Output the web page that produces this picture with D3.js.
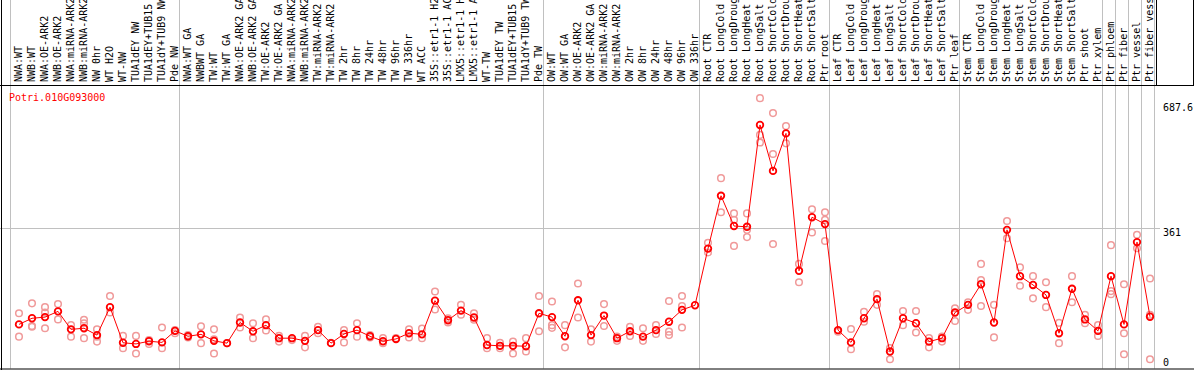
<!DOCTYPE html>
<html>
<head>
<meta charset="utf-8">
<script src="https://cdn.jsdelivr.net/npm/d3@7"></script>
<style>
  body { margin: 0; background: #fff; }
  svg { display: block; }
  text { font-family: "DejaVu Sans Mono", monospace; font-size: 10px; }
</style>
</head>
<body>
<div id="chart"></div>
<script>
// sample names, in plot order
var samples = [
  "NWA:WT", "NWB:WT", "NWA:OE-ARK2", "NWB:OE-ARK2", "NWA:miRNA-ARK2", "NWB:miRNA-ARK2",
  "NW 0hr", "WT H2O", "WT-NW", "TUA1dEY NW", "TUA1dEY+TUB15", "TUA1dY+TUB9 NW", "Pde NW",
  "NWA:WT GA", "NWBWT GA", "TW:WT", "TW:WT GA", "NWA:OE-ARK2 GA", "NWB:OE-ARK2 GA",
  "TW:OE-ARK2", "TW:OE-ARK2 GA", "NWA:miRNA-ARK2", "NWB:miRNA-ARK2", "TW:miRNA-ARK2",
  "TW:miRNA-ARK2", "TW 2hr", "TW 8hr", "TW 24hr", "TW 48hr", "TW 96hr", "TW 336hr",
  "WT ACC", "35S::etr1-1 H2O", "35S::etr1-1 ACC", "LMX5::etr1-1 H2O", "LMX5::etr1-1 ACC",
  "WT-TW", "TUA1dEY TW", "TUA1dEY+TUB15", "TUA1dY+TUB9 TW", "Pde TW",
  "OW:WT", "OW:WT GA", "OW:OE-ARK2", "OW:OE-ARK2 GA", "OW:miRNA-ARK2", "OW:miRNA-ARK2",
  "OW 2hr", "OW 8hr", "OW 24hr", "OW 48hr", "OW 96hr", "OW 336hr",
  "Root CTR", "Root LongCold", "Root LongDrought", "Root LongHeat", "Root LongSalt",
  "Root ShortCold", "Root ShortDrought", "Root ShortHeat", "Root ShortSalt", "Ptr root",
  "Leaf CTR", "Leaf LongCold", "Leaf LongDrought", "Leaf LongHeat", "Leaf LongSalt",
  "Leaf ShortCold", "Leaf ShortDrought", "Leaf ShortHeat", "Leaf ShortSalt", "Ptr leaf",
  "Stem CTR", "Stem LongCold", "Stem LongDrought", "Stem LongHeat", "Stem LongSalt",
  "Stem ShortCold", "Stem ShortDrought", "Stem ShortHeat", "Stem ShortSalt", "Ptr shoot",
  "Ptr xylem", "Ptr phloem", "Ptr fiber", "Ptr vessel", "Ptr fiber vessel"
];

// index where each experiment group starts (and the end)
var groupBreaks = [0, 13, 41, 53, 63, 73, 84, 85, 86, 87, 88];

// mean expression per sample
var means = [
  110, 126, 129, 144, 97, 100, 82, 155, 62, 59, 66, 63, 93,
  79, 84, 67, 61, 115, 92, 108, 74, 74, 67, 95, 61, 85, 95, 79, 66, 72, 87, 84,
  172, 121, 146, 128, 56, 54, 54, 53, 139,
  129, 79, 173, 82, 133, 74, 92, 78, 95, 117, 148, 160,
  308, 446, 367, 365, 631, 511, 609, 250, 390, 372,
  95, 63, 126, 176, 39, 126, 113, 65, 74, 141,
  161, 215, 115, 357, 236, 213, 187, 87, 203, 123, 93,
  236, 110, 325, 130
];

// individual replicates per sample
var replicates = [
  [139, 78], [165, 106, 104], [155, 141, 100], [163, 123], [108, 78], [122, 113, 74],
  [97, 78, 65], [184, 141], [80, 48], [80, 34], [69, 59], [102, 48], [95, 87],
  [82, 76], [105, 61], [97, 71, 34], [61], [128, 102], [113, 74], [123, 94], [80, 65],
  [69], [80, 50], [104, 87], [62], [95, 63], [113, 78], [82, 76], [74, 61], [74],
  [97, 76], [99, 74], [196, 149], [115, 126], [161, 135], [139, 122], [74, 48],
  [62, 48], [65, 34], [74, 39], [184, 92],
  [170, 108, 101], [108, 50], [217, 128], [97, 65], [163, 106], [78, 67], [104, 80],
  [100, 67], [108, 85], [171, 91, 82], [184, 158, 102], [],
  [323, 298], [492, 403], [400, 383, 315], [400, 357, 338], [701, 605, 585],
  [662, 555, 320], [628, 583], [268, 220], [411, 350], [403, 383, 328],
  [91], [98, 45], [143, 117], [189, 161], [19, 48], [145, 108], [145, 89], [74, 50],
  [78, 65], [152, 119],
  [168, 148], [268, 226, 158], [161, 76], [380, 335], [259, 211], [236, 178],
  [220, 155], [114, 61], [236, 168], [135, 113], [108, 80],
  [317, 197, 189], [215, 87, 32], [344, 309], [230, 135, 19]
];

var yTicks = [0, 361, 687.6];
var yGrid = [361];
var geneName = "Potri.010G093000";

var W = 1194, H = 370;
var labelBottom = 85, plotBottom = 368.5;

var svg = d3.select("#chart").append("svg")
    .attr("width", W)
    .attr("height", H);

var x = d3.scaleBand()
    .domain(d3.range(samples.length))
    .range([10.5, 10.5 + 13 * samples.length]);
var px = function(i) { return x(i) + 8.5; };

var y = d3.scaleLinear()
    .domain([0, 687.6])
    .range([366.5, 103.3]);

// group separators
svg.selectAll("line.sep")
  .data(groupBreaks)
  .enter().append("line")
    .attr("class", "sep")
    .attr("x1", function(d) { return Math.floor(x(d) !== undefined ? x(d) : x.range()[1]) + 0.5; })
    .attr("x2", function(d) { return Math.floor(x(d) !== undefined ? x(d) : x.range()[1]) + 0.5; })
    .attr("y1", 0)
    .attr("y2", plotBottom)
    .attr("stroke", "#c0c0c0")
    .attr("stroke-width", 1);

// horizontal grid
svg.selectAll("line.grid")
  .data(yGrid)
  .enter().append("line")
    .attr("x1", 0)
    .attr("x2", 1160)
    .attr("y1", function(d) { return Math.round(y(d)) + 0.5; })
    .attr("y2", function(d) { return Math.round(y(d)) + 0.5; })
    .attr("stroke", "#c0c0c0");

// frame lines
svg.append("line").attr("x1", 0).attr("x2", W).attr("y1", labelBottom + 0.5).attr("y2", labelBottom + 0.5).attr("stroke", "#000");
svg.append("line").attr("x1", 0).attr("x2", W).attr("y1", plotBottom + 0.5).attr("y2", plotBottom + 0.5).attr("stroke", "#000");
svg.append("line").attr("x1", 1.5).attr("x2", 1.5).attr("y1", 0).attr("y2", H).attr("stroke", "#000");
svg.append("line").attr("x1", 1156.5).attr("x2", 1156.5).attr("y1", 0).attr("y2", labelBottom).attr("stroke", "#000");
svg.append("line").attr("x1", 1193.5).attr("x2", 1193.5).attr("y1", 0).attr("y2", labelBottom).attr("stroke", "#000");

// sample labels, rotated
svg.selectAll("text.lab")
  .data(samples)
  .enter().append("text")
    .attr("class", "lab")
    .attr("transform", function(d, i) { return "translate(" + (px(i) + 3) + "," + (labelBottom - 3) + ") rotate(-90)"; })
    .attr("fill", "#000")
    .text(function(d) { return d; });

// replicate points
var reps = [];
replicates.forEach(function(r, i) { r.forEach(function(v) { reps.push([i, v]); }); });

svg.selectAll("circle.rep")
  .data(reps)
  .enter().append("circle")
    .attr("class", "rep")
    .attr("cx", function(d) { return px(d[0]); })
    .attr("cy", function(d) { return y(d[1]); })
    .attr("r", 3.3)
    .attr("fill", "none")
    .attr("stroke", "#f09a9a")
    .attr("stroke-width", 1.5);

// mean line
svg.append("path")
    .datum(means)
    .attr("fill", "none")
    .attr("stroke", "red")
    .attr("stroke-width", 1)
    .attr("d", d3.line()
      .x(function(d, i) { return px(i); })
      .y(function(d) { return y(d); })
    );

// mean points
svg.selectAll("circle.mean")
  .data(means)
  .enter().append("circle")
    .attr("class", "mean")
    .attr("cx", function(d, i) { return px(i); })
    .attr("cy", function(d) { return y(d); })
    .attr("r", 3.3)
    .attr("fill", "none")
    .attr("stroke", "red")
    .attr("stroke-width", 1.8);

// y tick labels on the right
svg.selectAll("text.tick")
  .data(yTicks)
  .enter().append("text")
    .attr("class", "tick")
    .attr("x", 1163)
    .attr("y", function(d) { return Math.min(y(d) + 7.5, 366); })
    .attr("fill", "#000")
    .text(function(d) { return d; });

// gene name
svg.append("text")
    .attr("x", 9)
    .attr("y", 101)
    .attr("fill", "red")
    .text(geneName);
</script>
</body>
</html>
